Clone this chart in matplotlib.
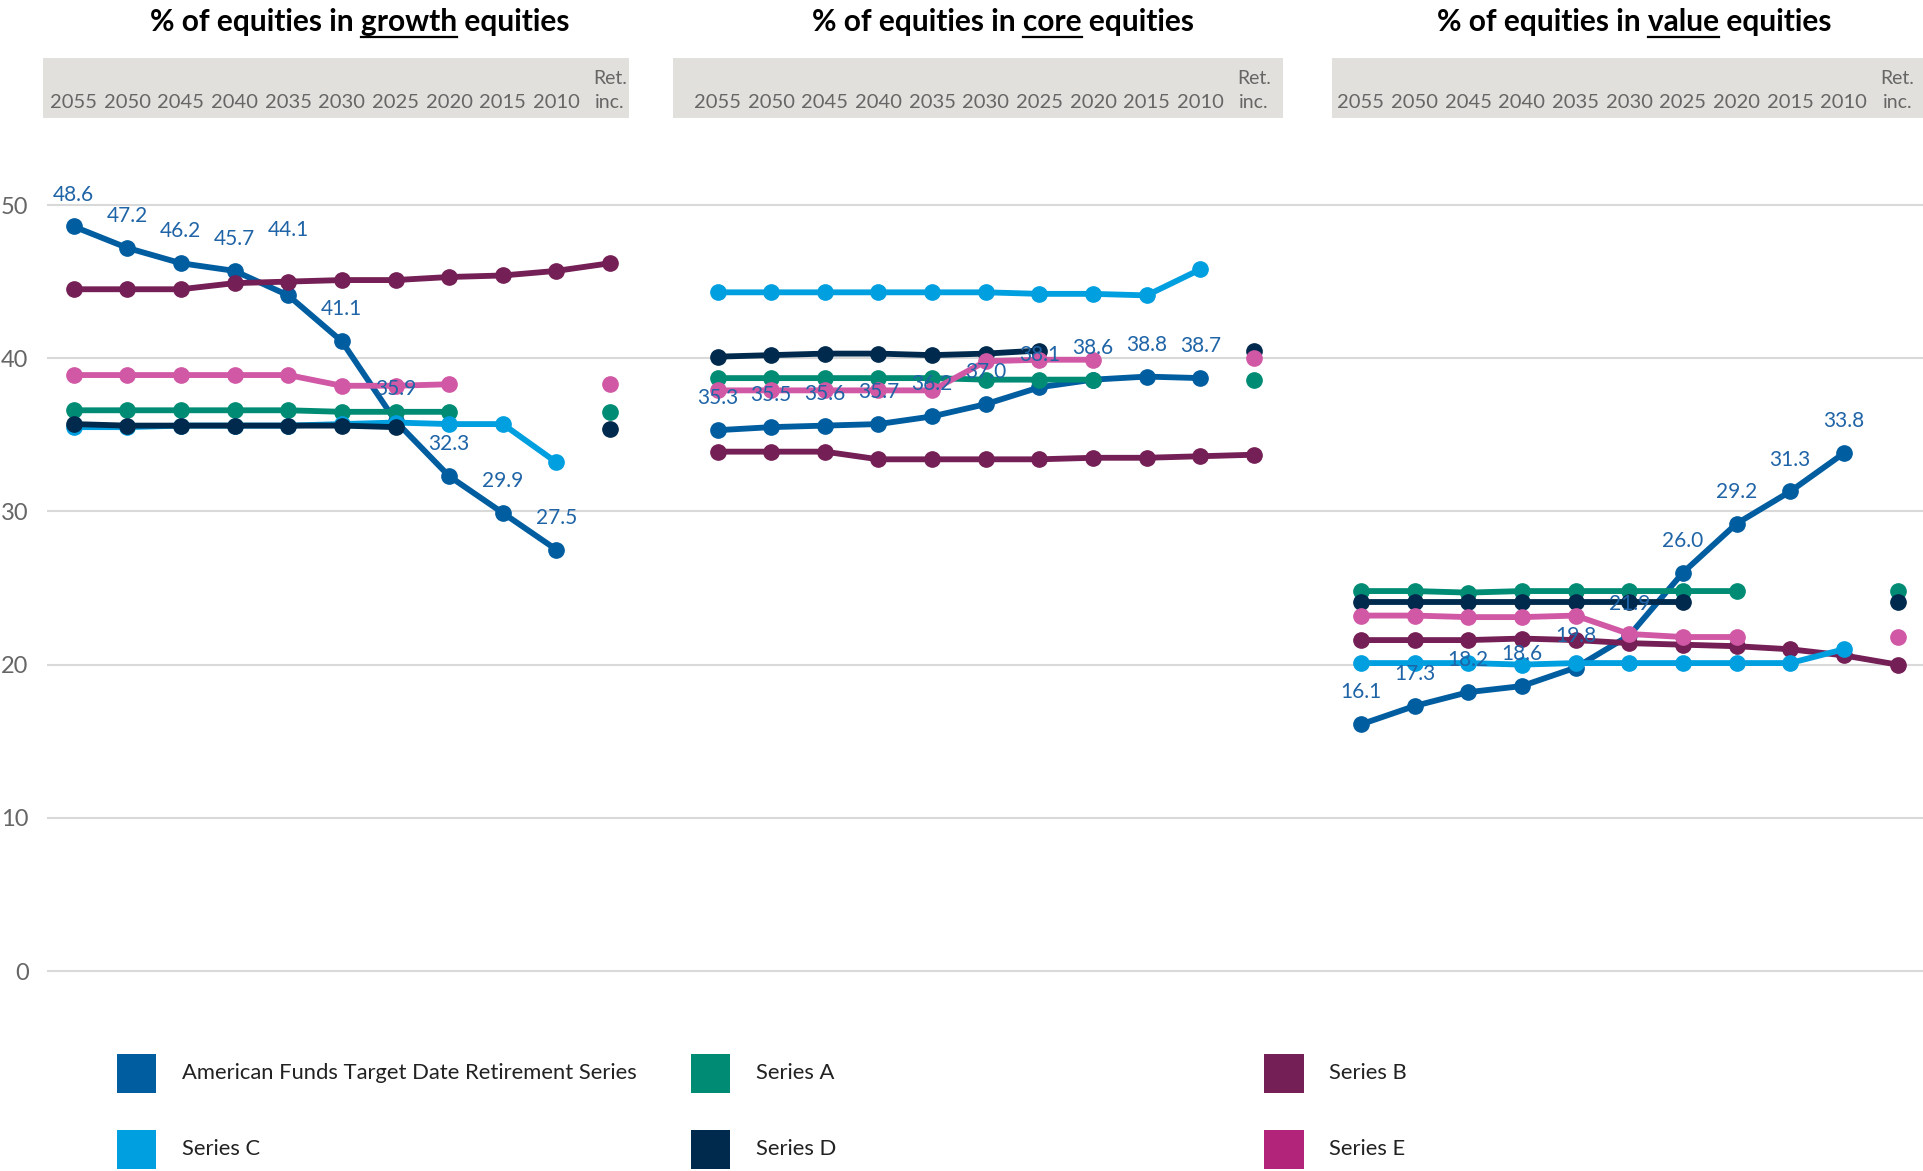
import matplotlib.pyplot as plt
import numpy as np
from matplotlib.patches import Rectangle
from matplotlib.lines import Line2D
from matplotlib.transforms import blended_transform_factory

plt.rcParams['font.family'] = ['Lato', 'DejaVu Sans']

W, H = 1923, 1171
nan = np.nan

# ---- data ----
categories = ['2055', '2050', '2045', '2040', '2035', '2030', '2025', '2020', '2015', '2010', 'Ret.\ninc.']
series_names = ['American Funds Target Date Retirement Series', 'Series A', 'Series B',
                'Series C', 'Series D', 'Series E']
panel_words = ['growth', 'core', 'value']

growth_af = [48.6, 47.2, 46.2, 45.7, 44.1, 41.1, 35.9, 32.3, 29.9, 27.5, nan]
growth_a = [36.6, 36.6, 36.6, 36.6, 36.6, 36.5, 36.5, 36.5, nan, nan, 36.5]
growth_b = [44.5, 44.5, 44.5, 44.9, 45.0, 45.1, 45.1, 45.3, 45.4, 45.7, 46.2]
growth_c = [35.5, 35.5, 35.6, 35.6, 35.6, 35.7, 35.8, 35.7, 35.7, 33.2, nan]
growth_d = [35.7, 35.6, 35.6, 35.6, 35.6, 35.6, 35.5, nan, nan, nan, 35.4]
growth_e = [38.9, 38.9, 38.9, 38.9, 38.9, 38.2, 38.2, 38.3, nan, nan, 38.3]

core_af = [35.3, 35.5, 35.6, 35.7, 36.2, 37.0, 38.1, 38.6, 38.8, 38.7, nan]
core_a = [38.7, 38.7, 38.7, 38.7, 38.7, 38.6, 38.6, 38.6, nan, nan, 38.6]
core_b = [33.9, 33.9, 33.9, 33.4, 33.4, 33.4, 33.4, 33.5, 33.5, 33.6, 33.7]
core_c = [44.3, 44.3, 44.3, 44.3, 44.3, 44.3, 44.2, 44.2, 44.1, 45.8, nan]
core_d = [40.1, 40.2, 40.3, 40.3, 40.2, 40.3, 40.5, nan, nan, nan, 40.5]
core_e = [37.9, 37.9, 37.9, 37.9, 37.9, 39.8, 39.9, 39.9, nan, nan, 40.0]

value_af = [16.1, 17.3, 18.2, 18.6, 19.8, 21.9, 26.0, 29.2, 31.3, 33.8, nan]
value_a = [24.8, 24.8, 24.7, 24.8, 24.8, 24.8, 24.8, 24.8, nan, nan, 24.8]
value_b = [21.6, 21.6, 21.6, 21.7, 21.6, 21.4, 21.3, 21.2, 21.0, 20.6, 20.0]
value_c = [20.1, 20.1, 20.1, 20.0, 20.1, 20.1, 20.1, 20.1, 20.1, 21.0, nan]
value_d = [24.1, 24.1, 24.1, 24.1, 24.1, 24.1, 24.1, nan, nan, nan, 24.1]
value_e = [23.2, 23.2, 23.1, 23.1, 23.2, 22.0, 21.8, 21.8, nan, nan, 21.8]

panels = [
    [growth_af, growth_a, growth_b, growth_c, growth_d, growth_e],
    [core_af, core_a, core_b, core_c, core_d, core_e],
    [value_af, value_a, value_b, value_c, value_d, value_e],
]

# ---- style ----
line_colors = ['#005DA0', '#008C74', '#741F55', '#009FDF', '#002A4D', '#D058A5']
legend_colors = ['#005DA0', '#008C74', '#741F55', '#009FDF', '#002A4D', '#B2237A']
label_color = '#1F64A6'
grey_text = '#666666'
ylim = (-2, 52)


def fx(px):
    return px / W


def fy(px):
    # px measured from top
    return 1 - px / H


fig = plt.figure(figsize=(W / 100, H / 100), dpi=100)

# y position of the data area: value 0 at 971px, 50 at 205px
unit_y = (971 - 205) / 50
ax_top = 205 - (ylim[1] - 50) * unit_y
ax_bot = 971 + (0 - ylim[0]) * unit_y
ax_b, ax_h = fy(ax_bot), (ax_bot - ax_top) / H

# background axes: gridlines + y labels
bg = fig.add_axes([fx(46.6), ax_b, 1 - fx(46.6), ax_h])
bg.set_ylim(*ylim)
bg.set_xlim(0, 1)
bg.set_yticks(range(0, 51, 10))
bg.set_yticklabels([str(v) for v in range(0, 51, 10)])
bg.tick_params(axis='y', length=0, pad=13, labelsize=17, labelcolor=grey_text)
bg.set_xticks([])
for s in bg.spines.values():
    s.set_visible(False)
bg.grid(axis='y', color='#D9D9D9', lw=1.5)
bg.patch.set_alpha(0)

x0_px = [73.6, 717.5, 1361.0]
unit_x = 53.65
xlim = (-0.6, 10.5)
box_extent = [(-0.57, 10.35), (-0.83, 10.54), (-0.54, 10.8)]
title_cx = [360, 1003, 1634]
label_offsets = {(0, 4): 47}

xs = np.arange(len(categories))

for p, data in enumerate(panels):
    left = x0_px[p] + xlim[0] * unit_x
    width = (xlim[1] - xlim[0]) * unit_x
    ax = fig.add_axes([fx(left), ax_b, width / W, ax_h])
    ax.set_xlim(*xlim)
    ax.set_ylim(*ylim)
    ax.axis('off')

    for k, vals in enumerate(data):
        ax.plot(xs, vals, color=line_colors[k], lw=4.2, marker='o', ms=11,
                solid_capstyle='round', zorder=2 + k, clip_on=False)

    af = data[0]
    for i, v in enumerate(af):
        if np.isnan(v):
            continue
        off = label_offsets.get((p, i), 23)
        ax.annotate(f'{v:.1f}', (i, v), xytext=(0, off), textcoords='offset points',
                    ha='center', va='center', fontsize=15, color=label_color, zorder=20)

    # header band with category labels
    tr = blended_transform_factory(ax.transData, fig.transFigure)
    bx0, bx1 = box_extent[p]
    ax.add_patch(Rectangle((bx0, fy(117.5)), bx1 - bx0, (117.5 - 57.5) / H,
                           transform=tr, facecolor='#E1E0DC', edgecolor='none',
                           clip_on=False, zorder=0))
    for i, c in enumerate(categories):
        if '\n' in c:
            top, bottom = c.split('\n')
            ax.text(i, fy(78.5), top, transform=tr, ha='center', va='center',
                    fontsize=14, color=grey_text)
            ax.text(i, fy(102), bottom, transform=tr, ha='center', va='center',
                    fontsize=14, color=grey_text)
        else:
            ax.text(i, fy(102), c, transform=tr, ha='center', va='center',
                    fontsize=14.5, color=grey_text)

# titles with underlined word
renderer = fig.canvas.get_renderer()
for p, word in enumerate(panel_words):
    prefix = '% of equities in '
    full = prefix + word + ' equities'
    t = fig.text(fx(title_cx[p]), fy(22.5), full, ha='center', va='center',
                 fontsize=21.5, fontweight='bold', color='black')
    bb = t.get_window_extent(renderer)
    tmp = fig.text(0, 0, prefix + word, fontsize=21.5, fontweight='bold')
    w_upto = tmp.get_window_extent(renderer).width
    tmp.set_text(word)
    w_word = tmp.get_window_extent(renderer).width
    tmp.remove()
    x_end = bb.x0 + w_upto
    x_start = x_end - w_word
    fig.add_artist(Line2D([x_start / W, x_end / W], [fy(36.5), fy(36.5)],
                          transform=fig.transFigure, color='black', lw=1.6))

# legend
col_px = [116.5, 690.5, 1264.4]
row_px = [1053.5, 1129.5]
sw = 39.2
for k, name in enumerate(series_names):
    r, c = divmod(k, 3)
    x, y = col_px[c], row_px[r]
    fig.add_artist(Rectangle((fx(x), fy(y + sw)), sw / W, sw / H,
                             transform=fig.transFigure, facecolor=legend_colors[k],
                             edgecolor='none'))
    fig.text(fx(x + 65), fy(y + sw / 2), name, ha='left', va='center',
             fontsize=15.8, color='#222222')

fig.savefig('out.png', dpi=100)
